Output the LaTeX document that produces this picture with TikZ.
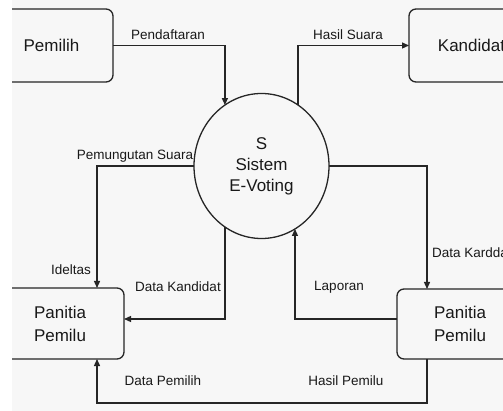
\documentclass[tikz,border=0pt]{standalone}
\usepackage{fontspec}
\setmainfont{Liberation Sans}
\usetikzlibrary{arrows.meta,shapes.geometric}
\begin{document}
\begin{tikzpicture}[x=1pt,y=-1pt,
 ln/.style={line width=1.3pt, draw=black!85},
 arr/.style={ln,-{Triangle[length=7pt,width=6pt]}},
 box/.style={draw=black!85, line width=1.3pt, rounded corners=7pt, align=center,
   font=\fontsize{17}{23}\selectfont, inner sep=0pt, outer sep=0pt, text=black!90},
 lab/.style={font=\fontsize{13.5}{16}\selectfont, text=black!90, inner sep=0pt},
 proc/.style={ellipse, draw=black!85, line width=1.3pt, minimum width=135pt,
   minimum height=145pt, inner sep=0pt, outer sep=0pt, align=center,
   font=\fontsize{17}{21}\selectfont, text=black!90}]
\useasboundingbox (0,0) rectangle (503,411);
\fill[white] (0,0) rectangle (503,411);
\fill[black!3] (12,0) rectangle (503,411);
\begin{scope}
\clip (12,0) rectangle (503,411);
% nodes
\node[box, minimum width=123pt, minimum height=73pt] (pemilih) at (51.5,45.5) {Pemilih};
\node[box, minimum width=125pt, minimum height=73pt] (kand) at (471.5,45.5) {Kandidat};
\node[box, minimum width=128pt, minimum height=71pt] (panL) at (60,323.5) {Panitia\\Pemilu};
\node[box, minimum width=126pt, minimum height=70pt] (panR) at (460,324) {Panitia\\Pemilu};
\node[proc] (sys) at (261.5,166) {S\\Sistem\\E-Voting};
\coordinate (bot) at (97,403);
% connectors
\draw[arr] (pemilih.east) -| (sys.121);
\draw[arr] (sys.59) |- (kand.west);
\draw[arr] (sys.west) -| ([xshift=37pt]panL.north);
\draw[arr] (sys.-121) |- ([yshift=4.5pt]panL.east);
\draw[arr] (sys.east) -| ([xshift=-33pt]panR.north);
\draw[arr] ([yshift=5pt]panR.west) -| (sys.-62);
\draw[arr] ([xshift=-33pt]panR.south) |- (bot) -- ([xshift=37pt]panL.south);
% labels
\node[lab] (l1) at (168,35) {Pendaftaran};
\node[lab] (l2) at (348,35) {Hasil Suara};
\node[lab] (l3) at (135,156) {Pemungutan Suara};
\node[lab] (l4) at (71,270) {Ideltas};
\node[lab] (l5) at (178,287) {Data Kandidat};
\node[lab] (l6) at (339,287) {Laporan};
\node[lab, anchor=west] (l7) at (432,253) {Data Kardda};
\node[lab] (l8) at (163,381) {Data Pemilih};
\node[lab] (l9) at (346,381) {Hasil Pemilu};
\end{scope}
\end{tikzpicture}
\end{document}
